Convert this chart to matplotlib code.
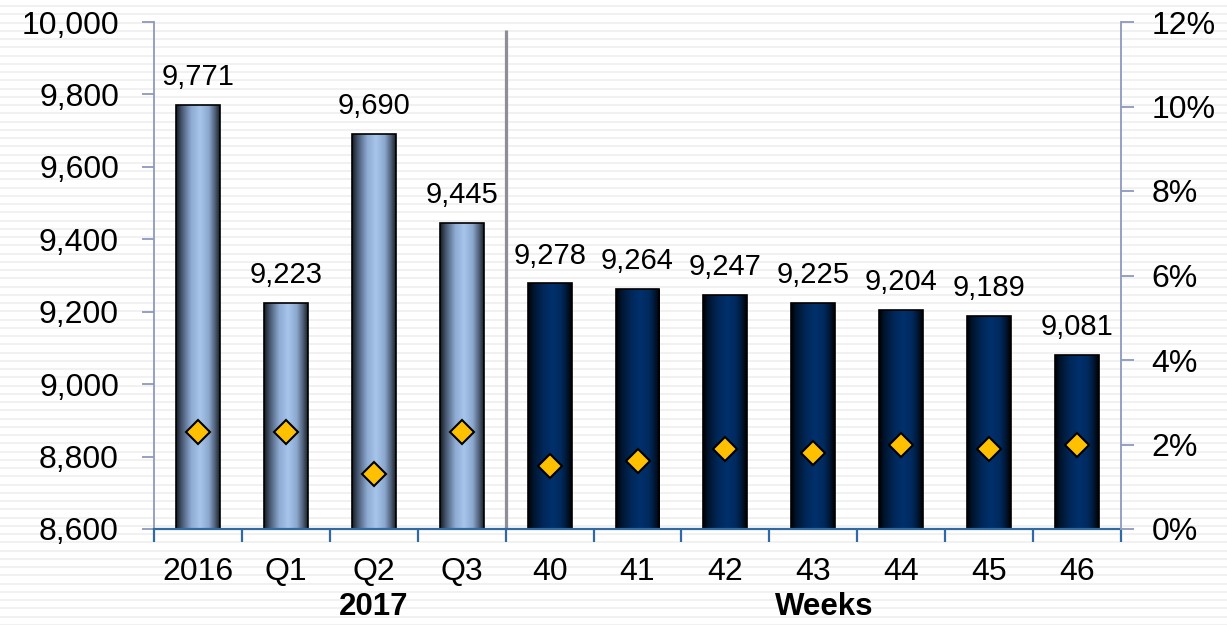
import numpy as np
import matplotlib
matplotlib.use("Agg")
import matplotlib.pyplot as plt
from matplotlib.colors import LinearSegmentedColormap
from matplotlib.ticker import FuncFormatter, FixedLocator

plt.rcParams['font.family'] = ['Liberation Sans', 'DejaVu Sans']

# ---- data ----
categories = ["2016", "Q1", "Q2", "Q3", "40", "41", "42", "43", "44", "45", "46"]
values = [9771, 9223, 9690, 9445, 9278, 9264, 9247, 9225, 9204, 9189, 9081]
rates = [2.3, 2.3, 1.3, 2.3, 1.5, 1.6, 1.9, 1.8, 2.0, 1.9, 2.0]  # percent, right axis
n_period = 4  # first bars are annual / quarterly, the rest are weeks
group_labels = ["2017", "Weeks"]

# ---- styles ----
light_cmap = LinearSegmentedColormap.from_list(
    "light_cyl",
    [(0.0, "#141a22"), (0.12, "#43526a"), (0.35, "#8eacd3"),
     (0.55, "#a7c5eb"), (0.75, "#8ba7cd"), (0.9, "#4a5a72"), (1.0, "#1a2029")])
dark_cmap = LinearSegmentedColormap.from_list(
    "dark_cyl",
    [(0.0, "#000000"), (0.12, "#00142e"), (0.35, "#00285a"),
     (0.55, "#00306c"), (0.75, "#002a5e"), (0.9, "#00142e"), (1.0, "#000000")])

TICK_FS = 23
LABEL_FS = 21

W, H = 1227, 625
fig = plt.figure(figsize=(W / 100, H / 100), dpi=100)

# faint horizontal striped background across the whole canvas
bg = fig.add_axes([0, 0, 1, 1], zorder=-10)
bg.set_xlim(0, 1)
bg.set_ylim(H, 0)
bg.axis("off")
for yy in np.arange(6, H, 8.25):
    bg.axhline(yy, color="#efefef", lw=1.2)

ax = fig.add_axes([154.3 / W, 1 - 529 / H, (1120.7 - 154.3) / W, (529 - 22) / H])
ax.patch.set_visible(False)

x = np.arange(len(categories))
bw = 0.5
ymin, ymax = 8600, 10000
bars = ax.bar(x, [v - ymin for v in values], bottom=ymin, width=bw,
              facecolor="none", edgecolor="black", linewidth=1.2, zorder=3)

grad = np.linspace(0, 1, 256).reshape(1, -1)
for i, b in enumerate(bars):
    cmap = light_cmap if i < n_period else dark_cmap
    x0 = b.get_x()
    im = ax.imshow(grad, cmap=cmap, extent=[x0, x0 + bw, ymin, values[i]],
                   aspect="auto", zorder=2, interpolation="bilinear")
    im.set_clip_path(b)
    ax.annotate(f"{values[i]:,}", (x[i], values[i]), xytext=(0, 10),
                textcoords="offset points", ha="center", va="bottom",
                fontsize=LABEL_FS, color="black", zorder=5)

ax.set_xlim(-0.5, len(categories) - 0.5)
ax.set_ylim(ymin, ymax)
ax.set_aspect("auto")

# separator between periods and weeks
ax.plot([n_period - 0.5, n_period - 0.5], [ymin, ymin + (ymax - ymin) * 0.984],
        color="#8e8e94", lw=2.3, zorder=4, solid_capstyle="butt")

# axes styling
spine_grey = "#8e9abd"
axis_blue = "#2f6aa3"
ax.spines["top"].set_visible(False)
ax.spines["left"].set_color(spine_grey)
ax.spines["left"].set_linewidth(1.3)
ax.spines["right"].set_visible(False)
ax.spines["bottom"].set_color(axis_blue)
ax.spines["bottom"].set_linewidth(1.6)
ax.spines["bottom"].set_zorder(6)

ax.set_yticks(np.arange(ymin, ymax + 1, 200))
ax.yaxis.set_major_formatter(FuncFormatter(lambda v, p: f"{int(v):,}"))
ax.tick_params(axis="y", direction="out", length=9, width=1.3, color=spine_grey,
               pad=16.5, labelsize=TICK_FS, labelcolor="black")

ax.set_xticks(x)
ax.set_xticklabels(categories)
ax.xaxis.set_minor_locator(FixedLocator(np.arange(-0.5, len(categories), 1.0)))
ax.tick_params(axis="x", which="major", length=0, pad=20.5, labelsize=TICK_FS,
               labelcolor="black")
ax.tick_params(axis="x", which="minor", direction="out", length=9, width=1.6, color=axis_blue)

# group labels below the category labels
ax.text(2, -0.154, group_labels[0], transform=ax.get_xaxis_transform(),
        ha="center", va="center", fontsize=22.5, fontweight="bold")
ax.text(7.12, -0.154, group_labels[1], transform=ax.get_xaxis_transform(),
        ha="center", va="center", fontsize=22.5, fontweight="bold")

# right axis: rates
ax2 = ax.twinx()
ax2.patch.set_visible(False)
ax2.set_ylim(0, 12)
ax2.set_yticks(np.arange(0, 13, 2))
ax2.yaxis.set_major_formatter(FuncFormatter(lambda v, p: f"{int(v)}%"))
for s in ["top", "left", "bottom"]:
    ax2.spines[s].set_visible(False)
ax2.spines["right"].set_color(spine_grey)
ax2.spines["right"].set_linewidth(1.3)
ax2.tick_params(axis="y", direction="out", length=9, width=1.3, color=spine_grey,
                pad=13, labelsize=TICK_FS, labelcolor="black")
ax2.plot(x, rates, linestyle="none", marker="D", markersize=12.5,
         markerfacecolor="#ffc000", markeredgecolor="black", markeredgewidth=1.5,
         zorder=7)

fig.savefig("out.png", dpi=100)
